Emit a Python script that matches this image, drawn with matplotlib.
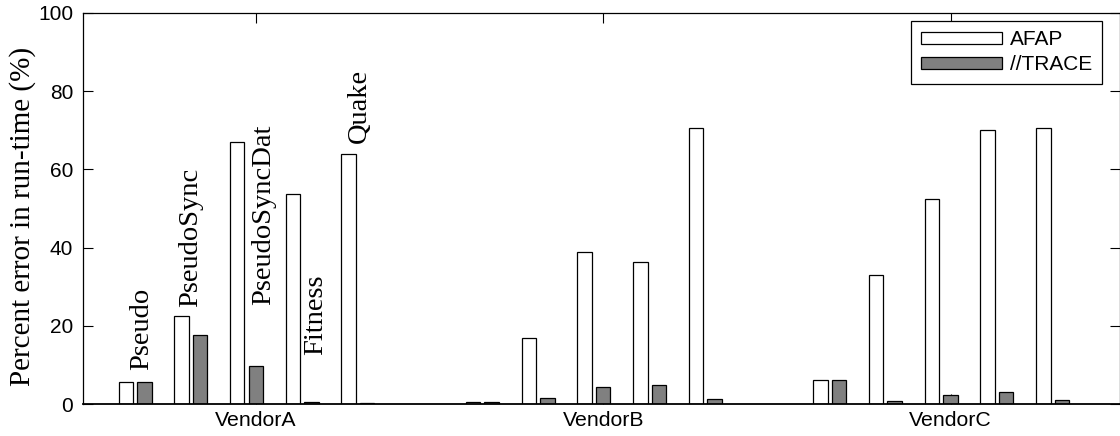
import matplotlib
matplotlib.use("Agg")
import matplotlib.pyplot as plt
import numpy as np

vendors = ["VendorA", "VendorB", "VendorC"]
benchmarks = ["Pseudo", "PseudoSync", "PseudoSyncDat", "Fitness", "Quake"]

# percent error per vendor, one entry per benchmark
afap = [
    [5.6, 22.5, 67.1, 53.7, 63.9],
    [0.6, 16.9, 38.9, 36.2, 70.5],
    [6.1, 33.1, 52.5, 70.2, 70.7],
]
trace = [
    [5.6, 17.6, 9.8, 0.5, 0.2],
    [0.6, 1.6, 4.3, 4.8, 1.2],
    [6.1, 0.8, 2.4, 3.0, 1.1],
]

# layout
group_step = 6.23
bar_w = 0.26
offset = 0.166
label_x = [-1.88, -1.0, 0.31, 1.24, 2.03]
label_y = [8.7, 24.8, 25.3, 12.5, 66.8]

sans = "Liberation Sans"
serif = "Liberation Serif"

fig = plt.figure(figsize=(11.2, 4.36), dpi=100)
ax = fig.add_axes([83 / 1120, 1 - 404 / 436, (1120 - 83) / 1120, 391 / 436])

for g in range(len(vendors)):
    x = g * group_step + np.arange(len(benchmarks)) - 2
    ax.bar(x - offset, afap[g], bar_w, color="white", edgecolor="black",
           linewidth=0.9, label="AFAP" if g == 0 else None, zorder=2)
    ax.bar(x + offset, trace[g], bar_w, color="#808080", edgecolor="black",
           linewidth=0.9, label="//TRACE" if g == 0 else None, zorder=2)

for name, lx, ly in zip(benchmarks, label_x, label_y):
    ax.text(lx, ly, name, rotation=90, ha="center", va="bottom",
            fontfamily=serif, fontsize=20.5)

ax.set_xlim(-2.933, 15.67)
ax.set_ylim(0, 100)
ax.set_xticks([g * group_step + 0.17 for g in range(len(vendors))])
ax.set_xticklabels(vendors, fontfamily=sans, fontsize=15.3)
ax.set_yticks([0, 20, 40, 60, 80, 100])
ax.set_yticklabels(["0", "20", "40", "60", "80", "100"], fontfamily=sans, fontsize=15)
ax.tick_params(direction="in", length=7, width=0.8, top=True, right=True)
ax.tick_params(axis="y", pad=7)
ax.tick_params(axis="x", pad=5)
for s in ax.spines.values():
    s.set_linewidth(0.9)
ax.spines["bottom"].set_linewidth(1.3)

ax.set_ylabel("Percent error in run-time (%)", fontfamily=serif, fontsize=21)
ax.yaxis.set_label_coords(-0.045, 0.48)

leg = ax.legend(loc="upper right", bbox_to_anchor=(0.9826, 0.9795), borderaxespad=0,
                prop={"family": sans, "size": 15}, fancybox=False, edgecolor="black",
                framealpha=1, handlelength=3.9, handleheight=0.55, handletextpad=0.4,
                labelspacing=0.28, borderpad=0.45)
leg.get_frame().set_linewidth(0.9)

fig.savefig("out.png", dpi=100)
